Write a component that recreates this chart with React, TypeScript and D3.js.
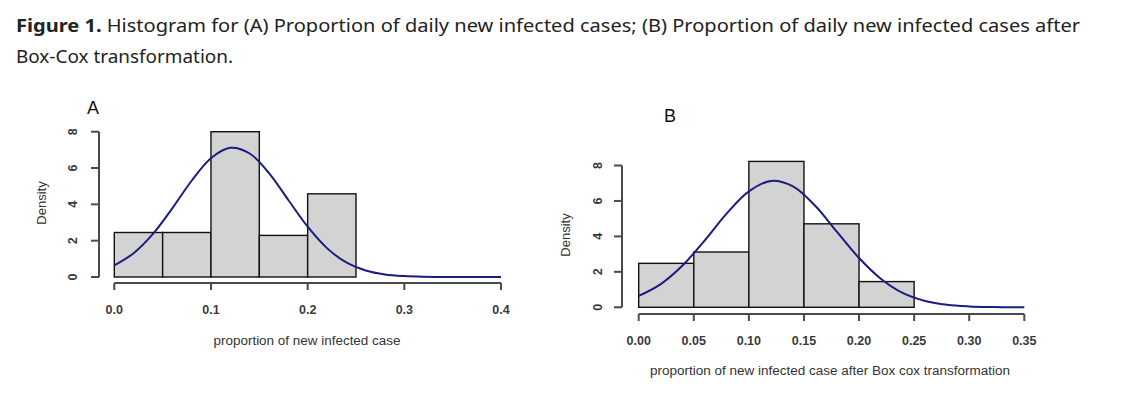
import React from "react";
import * as d3 from "d3";

// ---------- data ----------
const binEdges = [0, 0.05, 0.1, 0.15, 0.2, 0.25, 0.3];
const densityA = [2.45, 2.45, 8.0, 2.29, 4.58, 0];
const densityB = [2.48, 3.12, 8.23, 4.71, 1.45, 0];

const xTicksA = [0, 0.1, 0.2, 0.3, 0.4];
const xTickLabelsA = ["0.0", "0.1", "0.2", "0.3", "0.4"];
const xTicksB = [0, 0.05, 0.1, 0.15, 0.2, 0.25, 0.3, 0.35];
const xTickLabelsB = ["0.00", "0.05", "0.10", "0.15", "0.20", "0.25", "0.30", "0.35"];
const yTicks = [0, 2, 4, 6, 8];
const yTickLabels = ["0", "2", "4", "6", "8"];

// fitted normal curve
const curveXA = [0, 0.02, 0.04, 0.06, 0.08, 0.1, 0.12, 0.14, 0.16, 0.18, 0.2, 0.22, 0.24, 0.26, 0.28, 0.3, 0.32, 0.34, 0.36, 0.38, 0.4];
const curveYA = [0.64, 1.31, 2.37, 3.78, 5.3, 6.54, 7.11, 6.8, 5.72, 4.24, 2.77, 1.59, 0.8, 0.36, 0.14, 0.05, 0.015, 0.004, 0.001, 0, 0];
const curveXB = [0, 0.02, 0.04, 0.06, 0.08, 0.1, 0.12, 0.14, 0.16, 0.18, 0.2, 0.22, 0.24, 0.26, 0.28, 0.3, 0.32, 0.34, 0.35];
const curveYB = [0.64, 1.31, 2.37, 3.78, 5.3, 6.54, 7.13, 6.82, 5.74, 4.25, 2.78, 1.6, 0.8, 0.36, 0.14, 0.05, 0.015, 0.004, 0.002];

const titleBold = "Figure 1.";
const titleLine1 = " Histogram for (A) Proportion of daily new infected cases; (B) Proportion of daily new infected cases after";
const titleLine2 = "Box-Cox transformation.";

// ---------- styles ----------
const AXIS = "#4a4a4a";
const CURVE = "#1b1b80";
const FILL = "#d3d3d3";
const RFONT = "'Liberation Sans', Arial, sans-serif";
const TFONT = "'Noto Sans', sans-serif";

type PanelProps = {
  letter: string;
  letterX: number;
  letterY: number;
  xDomain: [number, number];
  xRange: [number, number];
  yRange: [number, number];
  yAxisX: number;
  xAxisY: number;
  xTicks: number[];
  xTickLabels: string[];
  xLabelY: number;
  yLabelX: number;
  densityX: number;
  densityY: number;
  xTitle: string;
  xTitleX: number;
  xTitleY: number;
  xTitleLen: number;
  density: number[];
  cx: number[];
  cy: number[];
};

function Panel(p: PanelProps) {
  const x = d3.scaleLinear().domain(p.xDomain).range(p.xRange);
  const y = d3.scaleLinear().domain([0, 8]).range(p.yRange);
  const line = d3
    .line<number>()
    .x((_, i) => x(p.cx[i]))
    .y((d) => y(d))
    .curve(d3.curveCatmullRom.alpha(0.5));
  const path = line(p.cy) || "";
  return (
    <g>
      <text x={p.letterX} y={p.letterY} fontFamily={RFONT} fontSize={18} fill="#111">
        {p.letter}
      </text>
      {p.density.map((d, i) => (
        <rect
          key={i}
          x={x(binEdges[i])}
          y={y(d)}
          width={x(binEdges[i + 1]) - x(binEdges[i])}
          height={y(0) - y(d)}
          fill={FILL}
          stroke="#111"
          strokeWidth={1.4}
        />
      ))}
      <path d={path} fill="none" stroke={CURVE} strokeWidth={2} />
      <line x1={p.yAxisX} x2={p.yAxisX} y1={y(0)} y2={y(8)} stroke={AXIS} strokeWidth={2} />
      {yTicks.map((t, i) => (
        <g key={"yt" + i}>
          <line x1={p.yAxisX - 8} x2={p.yAxisX} y1={y(t)} y2={y(t)} stroke={AXIS} strokeWidth={2} />
          <text
            transform={`translate(${p.yLabelX},${y(t)}) rotate(-90)`}
            dy="0.35em"
            textAnchor="middle"
            fontFamily={RFONT}
            fontSize={12.5}
            fontWeight="bold"
            fill="#3a3a3a"
          >
            {yTickLabels[i]}
          </text>
        </g>
      ))}
      <text
        transform={`translate(${p.densityX},${p.densityY}) rotate(-90)`}
        dy="0.35em"
        textAnchor="middle"
        fontFamily={RFONT}
        fontSize={13}
        fill="#333"
      >
        Density
      </text>
      <line
        x1={x(p.xTicks[0])}
        x2={x(p.xTicks[p.xTicks.length - 1])}
        y1={p.xAxisY}
        y2={p.xAxisY}
        stroke={AXIS}
        strokeWidth={2}
      />
      {p.xTicks.map((t, i) => (
        <g key={"xt" + i}>
          <line x1={x(t)} x2={x(t)} y1={p.xAxisY} y2={p.xAxisY + 7} stroke={AXIS} strokeWidth={2} />
          <text
            x={x(t)}
            y={p.xLabelY}
            textAnchor="middle"
            fontFamily={RFONT}
            fontSize={12.5}
            fontWeight="bold"
            fill="#3a3a3a"
          >
            {p.xTickLabels[i]}
          </text>
        </g>
      ))}
      <text
        x={p.xTitleX}
        y={p.xTitleY}
        textAnchor="middle"
        fontFamily={RFONT}
        fontSize={12.5}
        fill="#333"
        textLength={p.xTitleLen}
        lengthAdjust="spacingAndGlyphs"
      >
        {p.xTitle}
      </text>
    </g>
  );
}

export default function App() {
  return (
    <svg
      width={1130}
      height={403}
      viewBox="0 0 1130 403"
      style={{ position: "absolute", left: 0, top: 0, background: "#fff" }}
    >
      <rect x={0} y={0} width={1130} height={403} fill="#fff" />
      <text
        x={16}
        y={31.5}
        fontFamily={TFONT}
        fontSize={18}
        fill="#222"
        textLength={1064}
        lengthAdjust="spacingAndGlyphs"
      >
        <tspan fontWeight="bold">{titleBold}</tspan>
        <tspan>{titleLine1}</tspan>
      </text>
      <text
        x={16}
        y={63}
        fontFamily={TFONT}
        fontSize={18}
        fill="#222"
        textLength={217}
        lengthAdjust="spacingAndGlyphs"
      >
        {titleLine2}
      </text>

      <Panel
        letter="A"
        letterX={87}
        letterY={114}
        xDomain={[0, 0.4]}
        xRange={[114.3, 501]}
        yRange={[277, 131.7]}
        yAxisX={99}
        xAxisY={283}
        xTicks={xTicksA}
        xTickLabels={xTickLabelsA}
        xLabelY={313.5}
        yLabelX={73}
        densityX={41.5}
        densityY={203}
        xTitle="proportion of new infected case"
        xTitleX={307}
        xTitleY={345}
        xTitleLen={187}
        density={densityA}
        cx={curveXA}
        cy={curveYA}
      />
      <Panel
        letter="B"
        letterX={664}
        letterY={121.5}
        xDomain={[0, 0.35]}
        xRange={[638.7, 1024.3]}
        yRange={[307.3, 165.5]}
        yAxisX={622}
        xAxisY={314}
        xTicks={xTicksB}
        xTickLabels={xTickLabelsB}
        xLabelY={344.5}
        yLabelX={598}
        densityX={565}
        densityY={235}
        xTitle="proportion of new infected case after Box cox transformation"
        xTitleX={830}
        xTitleY={375}
        xTitleLen={360}
        density={densityB}
        cx={curveXB}
        cy={curveYB}
      />
    </svg>
  );
}
